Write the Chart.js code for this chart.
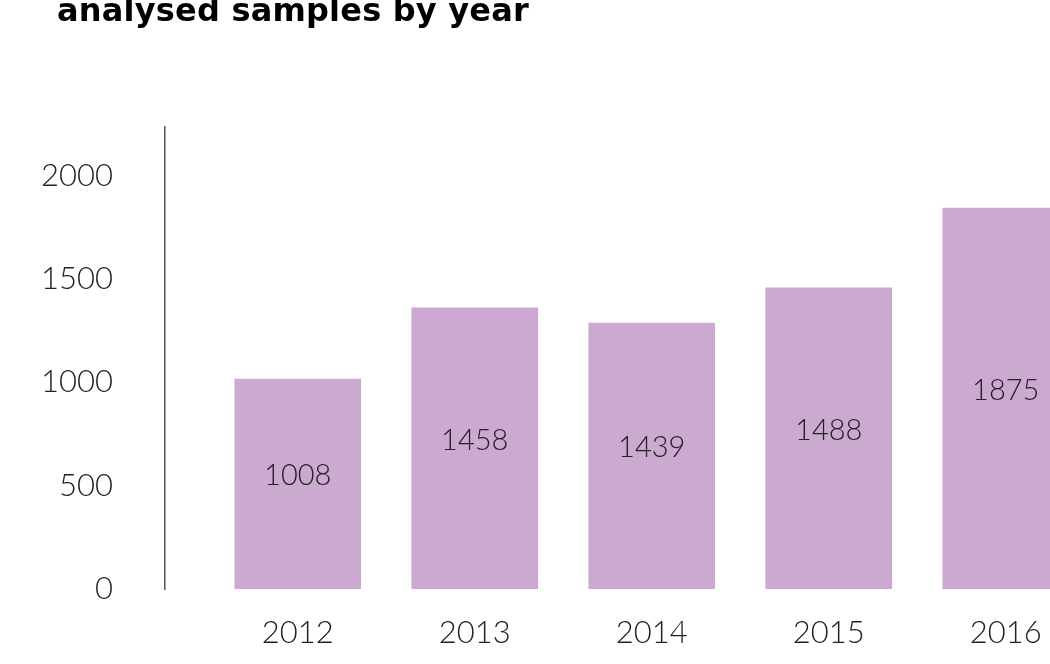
<!DOCTYPE html>
<html>
<head>
<meta charset="utf-8">
<script src="https://cdn.jsdelivr.net/npm/chart.js@4/dist/chart.umd.min.js"></script>
<style>
  html, body { margin: 0; padding: 0; background: #fff; overflow: hidden; }
  #wrap { position: relative; width: 1050px; height: 664px; }
  #title {
    position: absolute; left: 57px; top: -9px; margin: 0;
    font: bold 32px "DejaVu Sans", sans-serif; letter-spacing: 0.2px;
    color: #000; white-space: nowrap;
  }
</style>
</head>
<body>
<div id="wrap">
  <canvas id="chart" width="1050" height="664"></canvas>
  <h1 id="title">analysed samples by year</h1>
</div>
<script>
// Data (bar heights, labels as printed on the bars)
const years = [2012, 2013, 2014, 2015, 2016];
const barValues = [1017, 1361, 1288, 1458, 1845];
const valueLabels = ["1008", "1458", "1439", "1488", "1875"];
const yTicks = [0, 500, 1000, 1500, 2000];

Chart.defaults.font.family = "Lato, sans-serif";
Chart.defaults.font.weight = 300;
Chart.defaults.color = "#222";

// Draw the printed value in the middle of each bar
const barLabels = {
  id: "barLabels",
  afterDatasetsDraw(chart) {
    const ctx = chart.ctx;
    const meta = chart.getDatasetMeta(0);
    ctx.save();
    ctx.font = "300 29px Lato, sans-serif";
    ctx.fillStyle = "#222";
    ctx.textAlign = "center";
    ctx.textBaseline = "middle";
    meta.data.forEach((bar, i) => {
      const y = (bar.y + bar.base) / 2 - 8;
      ctx.fillText(valueLabels[i], bar.x, y);
    });
    ctx.restore();
  },
};

const ctx = document.getElementById("chart").getContext("2d");
new Chart(ctx, {
  type: "bar",
  data: {
    datasets: [
      {
        data: years.map((y, i) => ({ x: y, y: barValues[i] })),
        backgroundColor: "#cba9d0",
        borderWidth: 0,
        barThickness: 126,
      },
    ],
  },
  options: {
    responsive: false,
    animation: false,
    layout: { padding: { top: 127, left: 0, right: 0, bottom: 0 } },
    plugins: {
      legend: { display: false },
      tooltip: { enabled: false },
    },
    scales: {
      x: {
        type: "linear",
        min: 2011.25,
        max: 2016.25,
        offset: false,
        grid: { display: false, drawTicks: false, offset: false },
        border: { display: false },
        afterBuildTicks: (scale) => {
          scale.ticks = years.map((v) => ({ value: v }));
        },
        afterFit: (scale) => {
          scale.height = 75;
          // last year label may hang past the edge, as in the original
          scale.paddingLeft = 0;
          scale.paddingRight = 0;
        },
        ticks: {
          padding: 25,
          font: { size: 31 },
          callback: (v) => String(v),
          maxRotation: 0,
          autoSkip: false,
        },
      },
      y: {
        min: 0,
        max: 2237,
        grid: { display: false, drawTicks: false },
        border: { display: true, color: "#555", width: 1.5 },
        afterBuildTicks: (scale) => {
          scale.ticks = yTicks.map((v) => ({ value: v }));
        },
        afterFit: (scale) => {
          scale.width = 165;
        },
        ticks: {
          padding: 52,
          font: { size: 31 },
          callback: (v) => String(v),
        },
      },
    },
  },
  plugins: [barLabels],
});
</script>
</body>
</html>
